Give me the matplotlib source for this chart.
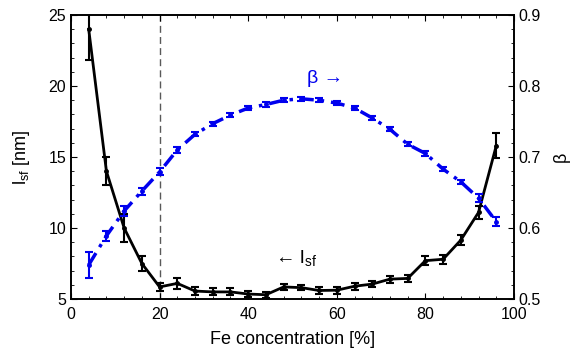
import numpy as np
import matplotlib
matplotlib.use("Agg")
import matplotlib.pyplot as plt
from matplotlib.ticker import MultipleLocator

plt.rcParams['font.family'] = ['Liberation Sans', 'DejaVu Sans']
plt.rcParams['mathtext.fontset'] = 'custom'
plt.rcParams['mathtext.rm'] = 'Liberation Sans'
plt.rcParams['mathtext.it'] = 'Liberation Sans'

# Fe concentration [%]
fe = [4, 8, 12, 16, 20, 24, 28, 32, 36, 40, 44, 48,
      52, 56, 60, 64, 68, 72, 76, 80, 84, 88, 92, 96]

# stacking fault length l_sf [nm]
lsf = [24.0, 14.0, 10.0, 7.5, 5.85, 6.1, 5.56, 5.5, 5.5, 5.35, 5.3, 5.85,
       5.8, 5.6, 5.62, 5.9, 6.05, 6.4, 6.45, 7.7, 7.8, 9.15, 11.1, 15.8]
lsf_err = [2.2, 1.0, 1.0, 0.5, 0.3, 0.4, 0.3, 0.25, 0.25, 0.2, 0.2, 0.2,
           0.2, 0.25, 0.25, 0.25, 0.2, 0.25, 0.25, 0.3, 0.3, 0.35, 0.45, 0.9]

# beta
beta = [0.548, 0.589, 0.624, 0.652, 0.679, 0.710, 0.732, 0.747, 0.759, 0.769, 0.774, 0.780,
        0.782, 0.780, 0.776, 0.769, 0.755, 0.739, 0.718, 0.705, 0.683, 0.665, 0.642, 0.609]
beta_err = [0.018, 0.007, 0.007, 0.005, 0.005, 0.004, 0.003, 0.003, 0.003, 0.003, 0.003, 0.003,
            0.003, 0.003, 0.003, 0.003, 0.003, 0.003, 0.003, 0.003, 0.003, 0.003, 0.006, 0.006]

fig = plt.figure(figsize=(5.79, 3.58), dpi=100)
ax = fig.add_axes([0.1226, 0.1648, 0.7651, 0.7932])
ax2 = ax.twinx()

ax.axvline(20, color='0.35', lw=1, ls=(0, (5, 3)), zorder=1)

ax.errorbar(fe, lsf, yerr=lsf_err, color='black', lw=2, marker='o', ms=2.5,
            capsize=3, capthick=1.5, elinewidth=1.5, zorder=3)
ax2.errorbar(fe, beta, yerr=beta_err, color='#0000ee', lw=2.5, ls=(0, (4, 2, 1, 2)),
             marker='o', ms=2.5, capsize=3, capthick=1.5, elinewidth=1.5, zorder=2)

ax.set_xlim(0, 100)
ax.set_ylim(5, 25)
ax2.set_ylim(0.5, 0.9)

ax.set_xticks([0, 20, 40, 60, 80, 100])
ax.xaxis.set_minor_locator(MultipleLocator(4))
ax.set_yticks([5, 10, 15, 20, 25])
ax.yaxis.set_minor_locator(MultipleLocator(1))
ax2.set_yticks([0.5, 0.6, 0.7, 0.8, 0.9])
ax2.set_yticklabels(['0.5', '0.6', '0.7', '0.8', '0.9'])
ax2.yaxis.set_minor_locator(MultipleLocator(0.02))

ax.tick_params(axis='x', which='both', direction='in', top=True, labelsize=11.5, pad=6)
ax.tick_params(axis='y', which='both', direction='in', labelsize=11.5)
ax2.tick_params(axis='y', which='both', direction='in', labelsize=11.5)
ax.tick_params(which='major', length=4)
ax.tick_params(which='minor', length=2)
ax2.tick_params(which='major', length=4)
ax2.tick_params(which='minor', length=2)

ax.set_xlabel('Fe concentration [%]', fontsize=13, labelpad=6)
ax.set_ylabel(r'l$_{\mathrm{sf}}$ [nm]', fontsize=13, labelpad=12)
ax2.set_ylabel('β', fontsize=13, labelpad=8)

ax2.text(57.3, 0.811, 'β →', color='#0000ee', fontsize=14, ha='center', va='center')
ax.text(50.8, 7.9, r'← l$_{\mathrm{sf}}$', color='black', fontsize=14, ha='center', va='center')

for a in (ax, ax2):
    for s in a.spines.values():
        s.set_linewidth(1.2)

fig.savefig('out.png', dpi=100)
